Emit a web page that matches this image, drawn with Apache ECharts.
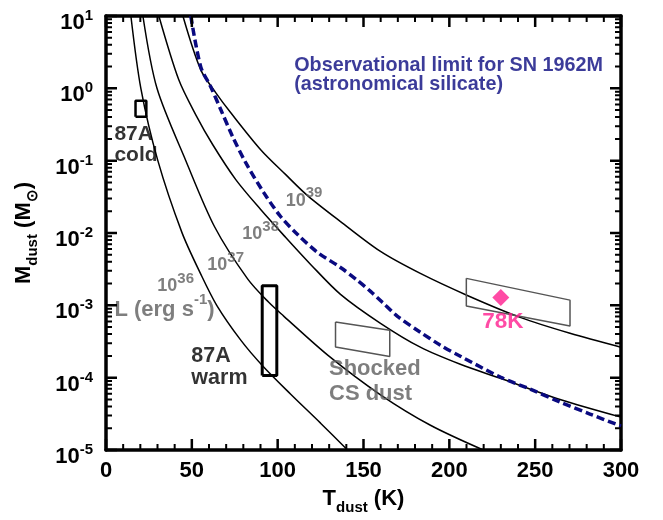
<!DOCTYPE html>
<html><head><meta charset="utf-8">
<script src="https://cdn.jsdelivr.net/npm/echarts@6/dist/echarts.min.js"></script>
<style>html,body{margin:0;padding:0;background:#fff}#c{width:663px;height:520px}</style>
</head><body><div id="c"></div>
<script>
// ---- data ----
const xMin = 0, xMax = 300, xStep = 50, xMinorStep = 10;
const yMin = 1e-5, yMax = 10;
const yDecades = [-5, -4, -3, -2, -1, 0, 1];

// luminosity curves (T in K, M in Msun)
const tempL36 = [14.5, 20.3, 30.2, 44.2, 55.2, 64.5, 78.5, 91.3, 107.6, 125.0, 140.7];
const massL36 = [10, 1.0, 0.1, 0.0102, 2.7e-3, 1.0e-3, 3.3e-4, 1.45e-4, 5.9e-5, 2.35e-5, 1e-5];
const tempL37 = [21.5, 29.7, 46.5, 63.4, 82.6, 94.8, 103.5, 129.7, 159.9, 189.0, 219.8];
const massL37 = [10, 1.0, 0.1, 0.012, 2.3e-3, 1.1e-3, 7.1e-4, 2.0e-4, 5.8e-5, 2.2e-5, 1e-5];
const tempL38 = [30.8, 42.4, 52.3, 62.2, 75.6, 90.1, 104.7, 119.2, 136.6, 159.9, 183.1, 206.4, 229.7, 264.5, 300];
const massL38 = [10, 1.31, 0.43, 0.166, 0.0547, 0.0211, 8.67e-3, 3.68e-3, 1.42e-3, 5.65e-4, 2.64e-4, 1.53e-4, 9.8e-5, 5.0e-5, 2.85e-5];
const tempL39 = [44.8, 55.2, 64.0, 72.7, 90.1, 104.7, 117.4, 136.6, 159.9, 183.1, 210.5, 241.3, 270.3, 300];
const massL39 = [10, 1.8, 0.867, 0.459, 0.142, 0.0641, 0.0329, 0.0144, 5.56e-3, 2.76e-3, 1.37e-3, 6.82e-4, 4.11e-4, 2.64e-4];

// observational limit SN 1962M (dashed)
const tempObs = [49.4, 55.2, 61.0, 66.9, 73.8, 81.4, 91.9, 101.7, 111.6, 123.3, 136.6, 146.5, 154.1, 161.0, 169.8, 183.1, 194.8, 206.4, 229.7, 247.1, 264.5, 281.9, 300];
const massObs = [10, 1.98, 1.05, 0.505, 0.214, 0.0938, 0.0362, 0.0169, 9.53e-3, 5.38e-3, 3.34e-3, 2.21e-3, 1.56e-3, 1.10e-3, 7.05e-4, 4.25e-4, 2.81e-4, 1.98e-4, 1.02e-4, 6.93e-5, 4.59e-5, 3.14e-5, 2.14e-5];

// boxes
const coldBoxT = [17.2, 23.5];
const coldBoxM = [0.405, 0.673];
const warmBoxT = [91.0, 99.5];
const warmBoxM = [1.07e-4, 1.86e-3];
const shockedT = [133.7, 165.3, 165.3, 133.7];
const shockedM = [5.89e-4, 4.52e-4, 1.96e-4, 2.66e-4];
const lateT = [209.9, 270.3, 270.3, 209.9];
const lateM = [2.36e-3, 1.18e-3, 5.18e-4, 9.77e-4];

// SN 1962M point
const pointT = [230];
const pointM = [1.28e-3];

// annotation texts and anchors
const obsText = ['Observational limit for SN 1962M', '(astronomical silicate)'];
const obsAt = [109.9, 1.5];
const coldText = ['87A', 'cold'];
const coldAt = [5.2, 0.166];
const warmText = ['87A', 'warm'];
const warmAt = [50.0, 1.40e-4];
const shockText = ['Shocked', 'CS dust'];
const shockAt = [130.2, 8.67e-5];
const lateText = '78K';
const lateAt = [219.5, 5.92e-4];
const lumExps = ['36', '37', '38', '39'];
const lumT = [30.2, 59.3, 79.7, 105.0];
const lumM = [2.01e-3, 3.85e-3, 0.01033, 0.0302];
const lumUnitAt = [5.2, 9.5e-4];

// ---- layout ----
const W = 663, H = 520;
const gridL = 106, gridR = 42, gridT = 16, gridB = 69;
const plotW = W - gridL - gridR, plotH = H - gridT - gridB;
const pxPerDecade = plotH / Math.log10(yMax / yMin);
const pxPerK = plotW / (xMax - xMin);
const majorLen = 11, minorLen = 6;

// tick segments built from the axis ranges (drawn inward on all four sides)
const GAP = ['-', '-'];
function xTickSegs(isMajor) {
  const f = Math.pow(10, (isMajor ? majorLen : minorLen) / pxPerDecade);
  const out = [];
  for (let t = xMin; t <= xMax + 1e-9; t += xMinorStep) {
    if ((t % xStep === 0) !== isMajor) continue;
    out.push([t, yMin], [t, yMin * f], GAP, [t, yMax], [t, yMax / f], GAP);
  }
  return out;
}
function yTickSegs(isMajor) {
  const d = (isMajor ? majorLen : minorLen) / pxPerK;
  const out = [];
  yDecades.forEach(e => {
    const vals = isMajor ? [Math.pow(10, e)] : (e < yDecades[yDecades.length - 1] ? [2, 3, 4, 5, 6, 7, 8, 9].map(k => k * Math.pow(10, e)) : []);
    vals.forEach(v => out.push([xMin, v], [xMin + d, v], GAP, [xMax - d, v], [xMax, v], GAP));
  });
  return out;
}

// ---- chart ----
const FONT = '"Liberation Sans", Arial, Helvetica, sans-serif';
const GRAY = '#5e5e5e';
const NAVY = '#0a0a80';
const PINK = '#ff1e8e';

const zip = (a, b) => a.map((v, i) => [v, b[i]]);
const closed = (t, m) => { const p = zip(t, m); p.push(p[0]); return p; };
const rect = (t, m) => [[t[0], m[0]], [t[1], m[0]], [t[1], m[1]], [t[0], m[1]], [t[0], m[0]]];

function curve(t, m) {
  return { type: 'line', data: zip(t, m), smooth: 0.3, symbol: 'none',
    lineStyle: { color: '#000', width: 1.5 }, z: 3 };
}
function boxLine(data, color, width) {
  return { type: 'line', data: data, symbol: 'none', lineStyle: { color: color, width: width }, z: 4 };
}
function tickLine(data, width) {
  return { type: 'line', data: data, symbol: 'none', connectNulls: false, clip: false,
    lineStyle: { color: '#000', width: width, cap: 'butt' }, z: 9 };
}
function textMark(at, text, style) {
  return {
    type: 'scatter', symbolSize: 1, itemStyle: { color: 'rgba(0,0,0,0)' }, z: 6,
    data: [{ value: at, label: Object.assign({ show: true, position: [0, 0], align: 'left', verticalAlign: 'middle',
      fontFamily: FONT, fontWeight: 'bold', formatter: text }, style) }]
  };
}
const supRich = (size, supSize, color, lh) => ({
  b: { fontSize: size, fontWeight: 'bold', color: color, fontFamily: FONT, lineHeight: lh, verticalAlign: 'bottom' },
  s: { fontSize: supSize, fontWeight: 'bold', color: color, fontFamily: FONT, verticalAlign: 'top' }
});
const subRich = () => ({
  m: { fontSize: 22, fontWeight: 'bold', color: '#000', fontFamily: FONT, lineHeight: 27, verticalAlign: 'top' },
  sub: { fontSize: 15, fontWeight: 'bold', color: '#000', fontFamily: FONT, verticalAlign: 'bottom' }
});
const mkAxisLine = () => ({ show: true, onZero: false, lineStyle: { color: '#000', width: 3.5 } });
const noTick = () => ({ show: false });

const series = [
  curve(tempL36, massL36), curve(tempL37, massL37), curve(tempL38, massL38), curve(tempL39, massL39),
  { type: 'line', data: zip(tempObs, massObs), smooth: 0.3, symbol: 'none',
    lineStyle: { color: NAVY, width: 3.5, type: [8, 4] }, z: 3 },
  boxLine(rect(coldBoxT, coldBoxM), '#000', 2.5),
  boxLine(rect(warmBoxT, warmBoxM), '#000', 3),
  boxLine(closed(shockedT, shockedM), '#555', 1.5),
  boxLine(closed(lateT, lateM), '#555', 1.5),
  { type: 'scatter', data: zip(pointT, pointM), symbol: 'diamond', symbolSize: [17, 17],
    itemStyle: { color: PINK }, z: 7 },
  textMark(obsAt, obsText.join('\n'), { color: NAVY, fontSize: 19.8, lineHeight: 18.5 }),
  textMark(coldAt, coldText.join('\n'), { color: '#000', fontSize: 21, lineHeight: 21 }),
  textMark(warmAt, warmText.join('\n'), { color: '#000', fontSize: 21.5, lineHeight: 22 }),
  textMark(shockAt, shockText.join('\n'), { color: GRAY, fontSize: 22, lineHeight: 25 }),
  textMark(lateAt, lateText, { color: PINK, fontSize: 22.5 }),
  textMark(lumUnitAt, '{b|L (erg s}{s|-1}{b|)}', { rich: supRich(22, 15, GRAY, 28) }),
  tickLine(xTickSegs(true), 2.5),
  tickLine(xTickSegs(false), 2),
  tickLine(yTickSegs(true), 2.5),
  tickLine(yTickSegs(false), 2)
];
lumExps.forEach((e, i) => {
  series.push(textMark([lumT[i], lumM[i]], '{b|10}{s|' + e + '}', { rich: supRich(18, 15, GRAY, 24) }));
});

const chart = echarts.init(document.getElementById('c'));
chart.setOption({
  animation: false,
  grid: { left: gridL, right: gridR, top: gridT, bottom: gridB },
  xAxis: [
    { type: 'value', min: xMin, max: xMax, interval: xStep, position: 'bottom',
      axisLine: mkAxisLine(), axisTick: noTick(), minorTick: noTick(),
      splitLine: { show: false },
      axisLabel: { margin: 10, fontSize: 22, fontWeight: 'bold', color: '#000', fontFamily: FONT },
      name: '{m|T}{sub|dust}{m| (K)}', nameLocation: 'middle', nameGap: 38,
      nameTextStyle: { rich: subRich() } },
    { type: 'value', min: xMin, max: xMax, interval: xStep, position: 'top',
      axisLine: mkAxisLine(), axisTick: noTick(), splitLine: { show: false }, axisLabel: { show: false } }
  ],
  yAxis: [
    { type: 'log', logBase: 10, min: yMin, max: yMax, position: 'left',
      axisLine: mkAxisLine(), axisTick: noTick(), splitLine: { show: false },
      axisLabel: { margin: 13, color: '#000', showMinLabel: true, showMaxLabel: true,
        formatter: v => '{b|10}{s|' + Math.round(Math.log10(v)) + '}',
        rich: { b: { fontSize: 22, fontWeight: 'bold', color: '#000', fontFamily: FONT, lineHeight: 36, verticalAlign: 'bottom' },
                s: { fontSize: 15, fontWeight: 'bold', color: '#000', fontFamily: FONT, verticalAlign: 'middle' } } },
      name: '{m|M}{sub|dust}{m| (M}{sub|\u2299}{m|)}', nameLocation: 'middle', nameGap: 66, nameRotate: 90,
      nameTextStyle: { rich: subRich() } },
    { type: 'log', logBase: 10, min: yMin, max: yMax, position: 'right',
      axisLine: mkAxisLine(), axisTick: noTick(), splitLine: { show: false }, axisLabel: { show: false } }
  ],
  series: series
});
</script></body></html>
